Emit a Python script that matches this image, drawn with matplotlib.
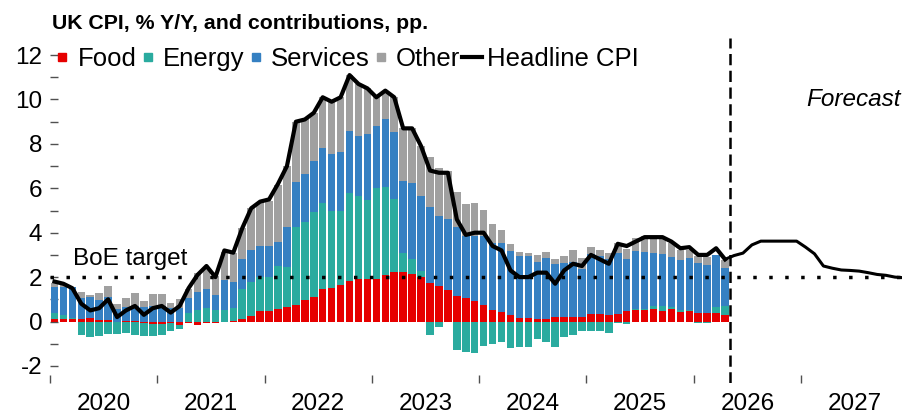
import numpy as np
import matplotlib
matplotlib.use("Agg")
import matplotlib.pyplot as plt
from matplotlib.lines import Line2D

plt.rcParams['font.family'] = ['Liberation Sans', 'DejaVu Sans']
plt.rcParams['axes.unicode_minus'] = False

# ---- data (monthly, Jan 2020 - Apr 2026) ----
food = [0.13, 0.10, 0.11, 0.10, 0.17, 0.07, 0.05, 0.00, 0.02, 0.04, -0.05, -0.13,
        -0.10, -0.07, -0.15, -0.05, -0.15, -0.07, -0.07, -0.03, 0.04, 0.11, 0.25, 0.47,
        0.47, 0.56, 0.67, 0.74, 0.97, 1.09, 1.45, 1.49, 1.64, 1.84, 1.90, 1.91,
        1.90, 2.10, 2.23, 2.21, 2.14, 2.02, 1.72, 1.60, 1.42, 1.16, 1.06, 0.92,
        0.74, 0.52, 0.41, 0.29, 0.16, 0.14, 0.13, 0.11, 0.19, 0.19, 0.19, 0.19,
        0.34, 0.34, 0.28, 0.34, 0.47, 0.51, 0.51, 0.55, 0.48, 0.55, 0.44, 0.47,
        0.37, 0.37, 0.37, 0.30]
energy = [0.27, 0.20, 0.06, -0.60, -0.70, -0.66, -0.58, -0.57, -0.54, -0.60, -0.60, -0.54,
          -0.50, -0.38, -0.17, 0.40, 0.54, 0.59, 0.51, 0.54, 0.56, 1.34, 1.53, 1.52,
          1.55, 1.94, 1.80, 3.50, 3.53, 3.86, 3.87, 3.48, 3.33, 3.94, 3.74, 3.56,
          4.10, 3.94, 3.27, 0.86, 0.66, 0.27, -0.60, -0.25, -0.03, -1.28, -1.37, -1.40,
          -1.10, -1.00, -0.93, -1.20, -1.14, -1.14, -0.78, -0.92, -1.17, -0.70, -0.60, -0.45,
          -0.45, -0.43, -0.50, -0.05, -0.10, 0.07, 0.07, 0.15, 0.20, 0.09, 0.10, 0.07,
          -0.05, -0.08, 0.27, 0.40]
services = [1.14, 1.25, 1.37, 0.98, 0.92, 0.90, 1.04, 0.55, 0.65, 0.66, 0.67, 0.69,
            0.70, 0.63, 0.63, 0.68, 0.80, 0.87, 0.68, 1.32, 1.16, 1.37, 1.44, 1.41,
            1.40, 1.10, 1.77, 2.06, 2.15, 2.28, 2.48, 2.57, 2.66, 2.78, 2.73, 2.96,
            2.81, 3.06, 3.05, 3.26, 3.45, 3.36, 3.45, 3.15, 3.20, 3.08, 2.79, 2.93,
            3.11, 3.00, 3.11, 2.88, 2.80, 2.81, 2.57, 2.73, 2.40, 2.43, 2.50, 2.16,
            2.69, 2.61, 2.52, 2.73, 2.36, 2.60, 2.55, 2.40, 2.37, 2.25, 2.22, 2.30,
            2.28, 2.18, 2.36, 1.70]
other = [0.18, 0.10, 0.00, 0.24, 0.12, 0.33, 0.50, 0.22, 0.37, 0.57, 0.27, 0.53,
         0.54, 0.20, 0.37, 0.40, 0.83, 0.89, 0.86, 1.28, 1.32, 1.38, 1.88, 2.00,
         2.03, 2.55, 2.76, 2.70, 2.46, 2.18, 2.30, 2.36, 2.46, 2.55, 2.34, 2.07,
         1.29, 1.29, 1.55, 2.37, 2.45, 2.25, 2.22, 2.15, 2.18, 1.58, 1.43, 1.50,
         1.17, 0.87, 0.60, 0.32, 0.15, 0.12, 0.30, 0.27, 0.23, 0.35, 0.53, 0.53,
         0.32, 0.27, 0.27, 0.48, 0.45, 0.56, 0.70, 0.72, 0.68, 0.66, 0.45, 0.40,
         0.30, 0.35, 0.00, 0.38]
headline = [1.8, 1.7, 1.5, 0.8, 0.5, 0.6, 1.0, 0.2, 0.5, 0.7, 0.3, 0.6,
            0.7, 0.4, 0.7, 1.5, 2.1, 2.5, 2.0, 3.2, 3.1, 4.2, 5.1, 5.4,
            5.5, 6.2, 7.0, 9.0, 9.1, 9.4, 10.1, 9.9, 10.1, 11.1, 10.7, 10.5,
            10.1, 10.4, 10.1, 8.7, 8.7, 7.9, 6.8, 6.7, 6.7, 4.6, 3.9, 4.0,
            4.0, 3.4, 3.2, 2.3, 2.0, 2.0, 2.2, 2.2, 1.7, 2.3, 2.6, 2.5,
            3.0, 2.8, 2.6, 3.5, 3.4, 3.6, 3.8, 3.8, 3.8, 3.6, 3.3, 3.35,
            3.0, 3.0, 3.3, 2.8]
# forecast path, Apr 2026 - Dec 2027
forecast = [2.8, 2.97, 3.08, 3.45, 3.62, 3.62, 3.62, 3.62, 3.62, 3.35, 3.05,
            2.5, 2.4, 2.32, 2.3, 2.27, 2.2, 2.12, 2.08, 2.0, 1.97]
years = ['2020', '2021', '2022', '2023', '2024', '2025', '2026', '2027']
series_names = ['Food', 'Energy', 'Services', 'Other']
colors = ['#E60000', '#2AAB9F', '#3580C2', '#A0A0A0']
boe_target = 2.0

# ---- figure ----
fig = plt.figure(figsize=(9.03, 4.13), dpi=100)
ax = fig.add_axes([50/903, 1 - 383/413, 1 - 50/903, (383 - 38)/413])

n = len(food)
x = np.arange(n) + 0.5
pos_bottom = np.zeros(n)
neg_bottom = np.zeros(n)
for vals, c in zip([food, energy, services, other], colors):
    v = np.array(vals, dtype=float)
    bottom = np.where(v >= 0, pos_bottom, neg_bottom)
    ax.bar(x, v, width=0.84, bottom=bottom, color=c, linewidth=0, zorder=2)
    pos_bottom = pos_bottom + np.where(v > 0, v, 0)
    neg_bottom = neg_bottom + np.where(v < 0, v, 0)

# headline line
ax.plot(x, headline, color='black', lw=3.0, solid_joinstyle='round', zorder=5)
xf = np.arange(len(forecast)) + n - 1 + 0.5
ax.plot(xf, forecast, color='black', lw=2.2, solid_joinstyle='round', zorder=5)

# BoE target
ax.axhline(boe_target, color='black', lw=2.5, linestyle=(0, (1, 3.6)), zorder=4)
ax.text(2.6, 2.55, 'BoE target', fontsize=17.5, ha='left', va='baseline')

# forecast divider
ax.axvline(n, color='black', lw=1.8, linestyle=(0, (4.5, 2.2)), zorder=6)
ax.text(95.2, 10.0, 'Forecast', fontsize=17.5, style='italic', ha='right', va='center')

ax.set_xlim(0, 95.4)
ax.set_ylim(-2.77, 12.77)
for s in ax.spines.values():
    s.set_visible(False)

ax.set_yticks(np.arange(-2, 13, 2))
ax.set_yticklabels([str(v) for v in range(-2, 13, 2)])
ax.set_yticks(np.arange(-1, 13, 2), minor=True)
ax.tick_params(axis='y', which='both', direction='in', length=6, width=1,
               color='#505050', labelsize=17.5, pad=5.5)

ax.set_xticks(np.arange(0, 96, 12))
ax.set_xticklabels([])
ax.set_xticks(np.arange(6, 96, 12), minor=True)
ax.set_xticklabels(years, minor=True)
ax.tick_params(axis='x', which='major', direction='in', length=6, width=1, color='#505050')
ax.tick_params(axis='x', which='minor', length=0, labelsize=17.5, pad=7)

# legend
fs_leg = 18.5
handles = [Line2D([], [], marker='s', markersize=5.2, color=c, linestyle='none')
           for c in colors]
handles.append(Line2D([], [], color='black', lw=3.0))
labels = series_names + ['Headline CPI']
L_pt = 20 * 0.72
ax.legend(handles, labels, loc='center left', bbox_to_anchor=(2.5/853, (383 - 59)/345),
          ncol=5, frameon=False, fontsize=fs_leg, handlelength=L_pt/fs_leg,
          handletextpad=(5.0*0.72)/fs_leg, columnspacing=(1.5*0.72)/fs_leg,
          borderpad=0, borderaxespad=0)

fig.text(52/903, 1 - 29/413, 'UK CPI, % Y/Y, and contributions, pp.',
         fontsize=15.3, fontweight='bold', ha='left', va='baseline')

fig.savefig('out.png', dpi=100)
